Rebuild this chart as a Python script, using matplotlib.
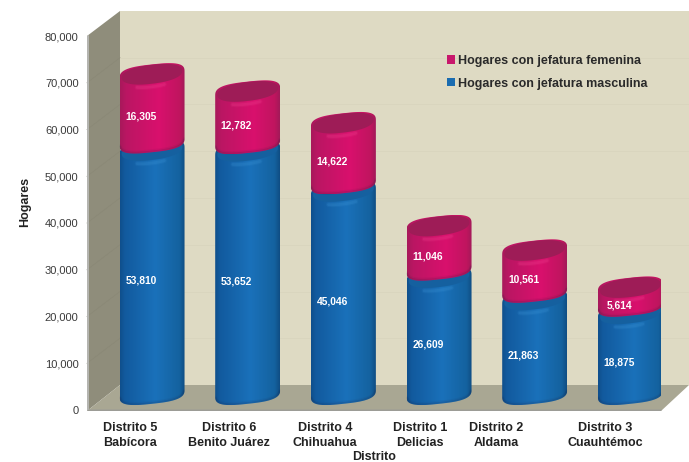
import numpy as np
import matplotlib
matplotlib.use("Agg")
import matplotlib.pyplot as plt
from matplotlib.patches import Polygon, Patch
from matplotlib.path import Path
from matplotlib.colors import LinearSegmentedColormap

plt.rcParams['font.family'] = ['Liberation Sans', 'DejaVu Sans']

districts = ["Distrito 5\nBabícora", "Distrito 6\nBenito Juárez", "Distrito 4\nChihuahua",
             "Distrito 1\nDelicias", "Distrito 2\nAldama", "Distrito 3\nCuauhtémoc"]
masculina = [53810, 53652, 45046, 26609, 21863, 18875]
femenina = [16305, 12782, 14622, 11046, 10561, 5614]
label_px = [130, 229, 325, 420, 496.5, 605]
yticks = [0, 10000, 20000, 30000, 40000, 50000, 60000, 70000, 80000]

W, H = 689, 462
L, R, B, T = 87, 661, 410, 36
fig = plt.figure(figsize=(W / 100, H / 100), dpi=100, facecolor='white')
ax = fig.add_axes([L / W, (H - B) / H, (R - L) / W, (B - T) / H])
ax.set_facecolor('none')
PX = 6 / (R - L)
PY = 80000 / (B - T)


def X(p):
    return (p - L) * PX


def Y(p):
    return (B - p) * PY


def wall(pts, color, z=1):
    ax.add_patch(Polygon([(X(a), Y(b)) for a, b in pts], closed=True, fc=color, ec='none',
                         zorder=z, clip_on=False))


# 3-D box
wall([(120, 11), (689, 11), (689, 385), (120, 385)], '#dedac3')
wall([(87, 36), (120, 11), (120, 385), (87, 411)], '#8f8d7b')
wall([(87, 411), (120, 385), (689, 385), (661, 411)], '#a9a793')
wall([(87, 36), (89, 35), (89, 410), (87, 411)], '#b4b4b0', 1.2)
wall([(87, 411), (89, 409.5), (662, 409.5), (661, 411)], '#9c9c96', 1.2)
for v in yticks[1:-1]:
    ya = B - v / PY
    ax.plot([X(120), X(689)], [Y(ya - 25), Y(ya - 25)], color='#d8d4bd', lw=0.5, zorder=1.1, clip_on=False)
    ax.plot([X(87), X(120)], [Y(ya), Y(ya - 25)], color='#8a8876', lw=0.5, zorder=1.1, clip_on=False)

blue_cmap = LinearSegmentedColormap.from_list('b', [(0, '#0f4f8c'), (.07, '#125a9e'), (.55, '#1a71ba'),
                                                    (.92, '#14629f'), (1, '#0f4d84')])
red_cmap = LinearSegmentedColormap.from_list('r', [(0, '#a8195b'), (.1, '#bb1663'), (.6, '#d9106d'),
                                                   (.92, '#c0155f'), (1, '#a31a59')])
RX, RY, SHEAR = 32.5, 10.8, 3.5
DX = 17.2


def cap(cx_px, v, rx, ry, t, n=2.25):
    c, s = np.cos(t), np.sin(t)
    xx = rx * np.sign(c) * np.abs(c) ** (2 / n)
    yy = ry * np.sign(s) * np.abs(s) ** (2 / n)
    return cx_px + xx, v + (yy + SHEAR * xx / rx) * PY


def cylinder(i, v0, v1, cmap, topc, hi, z):
    cx = L + (i + .5) / PX + DX
    y_top = v1 + 7 * PY
    y_bot = v0 + 17 * PY if v0 > 0 else 17 * PY
    xa, ya = cap(cx, y_top, RX, RY, np.linspace(np.pi, 0, 80), 3.0)
    xb, yb = cap(cx, y_bot, RX, RY, np.linspace(0, -np.pi, 80), 3.0)
    verts = np.column_stack([X(np.r_[xa, xb]), np.r_[ya, yb]])
    path = Path(np.vstack([verts, verts[0]]), closed=True)
    im = ax.imshow(np.linspace(0, 1, 128)[None, :], cmap=cmap, aspect='auto', zorder=z, origin='lower',
                   extent=[X(cx - RX), X(cx + RX), yb.min(), ya.max()])
    im.set_clip_path(path, transform=ax.transData)
    # soft darker lower rim
    for k, alpha in zip([.6, 2.0], [.14, .06]):
        xr, yr = cap(cx, y_bot + k * PY, RX - .5, RY, np.linspace(-.1, -np.pi + .1, 60), 3.0)
        ln, = ax.plot(X(xr), yr, color='#202040', lw=1.6, alpha=alpha, zorder=z + .1, solid_capstyle='round')
        ln.set_clip_path(path, transform=ax.transData)
    # soft highlight just under the top rim
    for lw, alpha in zip([3.5, 2.0], [.12, .22]):
        xh, yh = cap(cx, y_top - .8 * PY, RX - 5, RY, np.linspace(-1.15, -2.1, 30))
        ax.plot(X(xh), yh, color=hi, lw=lw, alpha=alpha, zorder=z + .1, solid_capstyle='round')
    # top face
    xt, yt = cap(cx, y_top + 1.0 * PY, RX - 2.2, RY - 1.3, np.linspace(0, 2 * np.pi, 120), 2.3)
    ax.fill(X(xt), yt, color=topc, lw=0, zorder=z + .2)


for i, (m, f) in enumerate(zip(masculina, femenina)):
    cylinder(i, 0, m, blue_cmap, '#15609f', '#3a92d4', 3 + i * .01)
    cylinder(i, m, m + f, red_cmap, '#9e1c57', '#f0408f', 4 + i * .01)
    tx = i + .5 + 6 * PX
    ax.text(tx, m / 2 + 3.5 * PY, f"{m:,}", color='white', fontsize=7.4, fontweight='bold',
            ha='center', va='center', zorder=6)
    ax.text(tx, m + f / 2 + 3.5 * PY, f"{f:,}", color='white', fontsize=7.4, fontweight='bold',
            ha='center', va='center', zorder=6)

ax.set_xlim(0, 6)
ax.set_ylim(0, 80000)
for s in ax.spines.values():
    s.set_visible(False)
ax.set_yticks(yticks)
ax.set_yticklabels([f"{v:,}" for v in yticks], fontsize=8, color='#3a3a3a')
ax.set_xticks([X(p) for p in label_px])
ax.set_xticklabels(districts, fontsize=9, fontweight='bold', color='#222222', linespacing=1.3)
ax.tick_params(axis='both', length=0)
ax.tick_params(axis='y', pad=6)
ax.tick_params(axis='x', pad=8.5)

fig.text(374 / W, 1 - 456.5 / H, "Distrito", fontsize=9, fontweight='bold', color='#222222', ha='center', va='center')
fig.text(25 / W, 1 - 201.5 / H, "Hogares", fontsize=9, fontweight='bold', color='#222222', rotation=90,
         ha='center', va='center')

handles = [Patch(fc='#c8176c', ec='none'), Patch(fc='#1a6cb0', ec='none')]
ax.legend(handles, ["Hogares con jefatura femenina", "Hogares con jefatura masculina"],
          loc='upper left', bbox_to_anchor=(X(447) / 6, Y(55) / 80000), frameon=False, fontsize=9,
          labelcolor='#2a2a2a', prop={'weight': 'bold', 'size': 9}, handlelength=.64, handleheight=.64,
          handletextpad=.25, borderpad=0, borderaxespad=0, labelspacing=.84).set_zorder(7)

fig.savefig("out.png", dpi=100, facecolor='white')
